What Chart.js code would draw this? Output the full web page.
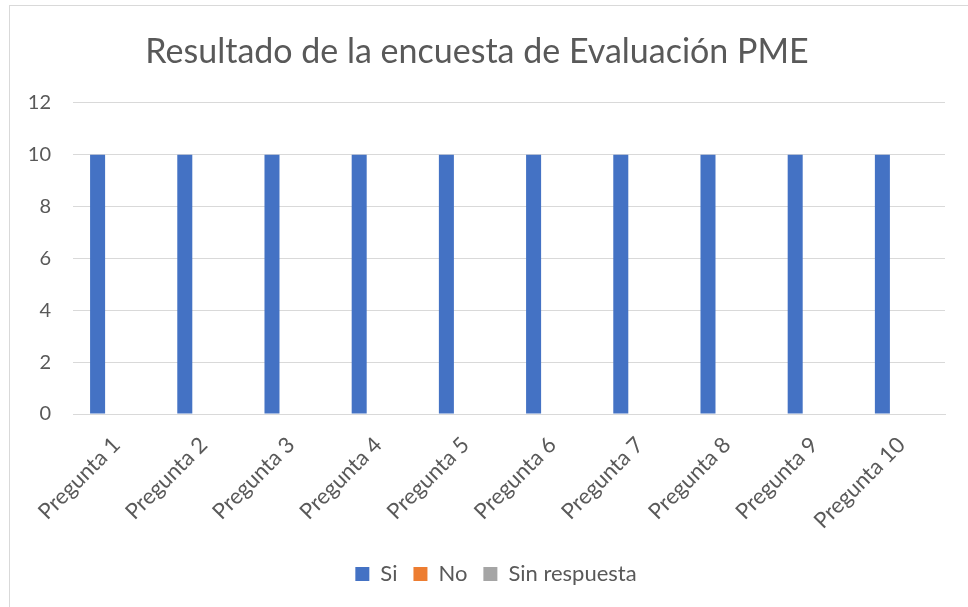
<!DOCTYPE html>
<html>
<head>
<meta charset="utf-8">
<script src="https://cdn.jsdelivr.net/npm/chart.js@4.4.1/dist/chart.umd.min.js"></script>
<style>
  html, body { margin: 0; padding: 0; background: #fff; }
  #wrap { position: absolute; left: 0; top: 0; width: 968px; height: 607px; }
  #frame {
    position: absolute; left: 9px; top: 5px; width: 1000px; height: 1000px;
    border-left: 1px solid #d9d9d9; border-top: 1px solid #d9d9d9;
    pointer-events: none;
  }
</style>
</head>
<body>
<div id="wrap"><canvas id="chart" width="968" height="607"></canvas></div>
<div id="frame"></div>
<script>
  const preguntas = ['Pregunta 1', 'Pregunta 2', 'Pregunta 3', 'Pregunta 4', 'Pregunta 5',
    'Pregunta 6', 'Pregunta 7', 'Pregunta 8', 'Pregunta 9', 'Pregunta 10'];
  const si = [10, 10, 10, 10, 10, 10, 10, 10, 10, 10];
  const no = [0, 0, 0, 0, 0, 0, 0, 0, 0, 0];
  const sinRespuesta = [0, 0, 0, 0, 0, 0, 0, 0, 0, 0];
  const yMin = 0, yMax = 12, yStep = 2;

  const FONT = 'Lato, "Open Sans", sans-serif';
  const TEXT = '#595959';
  const GRID = '#d9d9d9';

  Chart.defaults.font.family = FONT;
  Chart.defaults.color = TEXT;

  // legend sits centred on the whole frame, not on the plot box
  const legendShift = {
    id: 'legendShift',
    afterLayout: function (chart) {
      if (!chart.legend) return;
      chart.legend.left += 19;
      chart.legend.right += 19;
    }
  };

  new Chart(document.getElementById('chart').getContext('2d'), {
    type: 'bar',
    data: {
      labels: preguntas,
      datasets: [
        { label: 'Si', data: si, backgroundColor: '#4472c4' },
        { label: 'No', data: no, backgroundColor: '#ed7d31' },
        { label: 'Sin respuesta', data: sinRespuesta, backgroundColor: '#a5a5a5' }
      ]
    },
    options: {
      responsive: false,
      animation: false,
      categoryPercentage: 0.654,
      barPercentage: 0.79,
      layout: { padding: { left: 9, right: 23, top: 32, bottom: 12 } },
      scales: {
        x: {
          grid: { display: false, drawTicks: false },
          border: { color: GRID, width: 1 },
          ticks: { font: { size: 22 }, color: TEXT, minRotation: 45, maxRotation: 45, padding: 18 },
          afterFit: function (scale) { scale.height = 133; }
        },
        y: {
          min: yMin,
          max: yMax,
          grid: { color: GRID, drawTicks: false },
          border: { display: false },
          ticks: { stepSize: yStep, font: { size: 20 }, color: TEXT, padding: 22 },
          afterFit: function (scale) { scale.width = 64; }
        }
      },
      plugins: {
        title: {
          display: true,
          text: 'Resultado de la encuesta de Evaluación PME',
          font: { size: 34, weight: 'normal' },
          color: TEXT,
          padding: { top: 0, bottom: 30 }
        },
        legend: {
          position: 'bottom',
          labels: { boxWidth: 14, boxHeight: 14, font: { size: 22 }, color: TEXT, padding: 16 }
        },
        tooltip: { enabled: false }
      }
    },
    plugins: [legendShift]
  });
</script>
</body>
</html>
